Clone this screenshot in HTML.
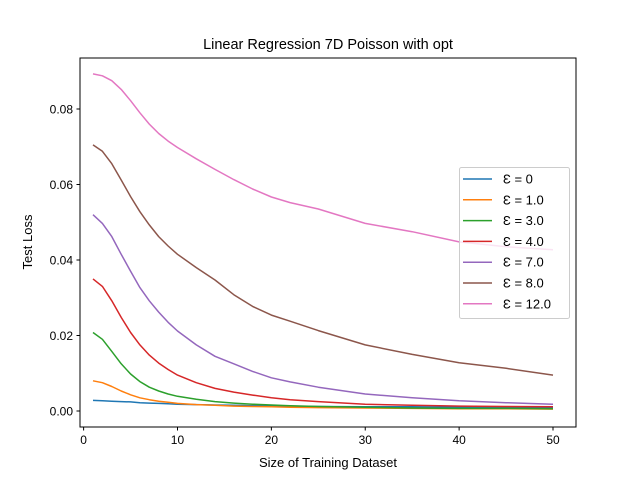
<!DOCTYPE html>
<html><head><meta charset="utf-8"><style>
body{margin:0;background:#fff;}
svg text{font-family:"Liberation Sans","DejaVu Sans",sans-serif;fill:#000;}
</style></head><body>
<svg id="chart" width="640" height="480" xmlns="http://www.w3.org/2000/svg">
<rect width="640" height="480" fill="#fff"/>
<text x="328" y="49" font-size="14.5" text-anchor="middle">Linear Regression 7D Poisson with opt</text>
<g id="plot"></g>
<text x="328" y="467" font-size="13" text-anchor="middle">Size of Training Dataset</text>
<text x="32" y="242" font-size="13" text-anchor="middle" transform="rotate(-90 32 242)">Test Loss</text>
</svg>
<script>
const xs = [1,2,3,4,5,6,7,8,9,10,12,14,16,18,20,22,25,30,35,40,45,50];
const labels = ["Ɛ = 0","Ɛ = 1.0","Ɛ = 3.0","Ɛ = 4.0","Ɛ = 7.0","Ɛ = 8.0","Ɛ = 12.0"];
const colors = ["#1f77b4","#ff7f0e","#2ca02c","#d62728","#9467bd","#8c564b","#e377c2"];
const s0 = [0.0028,0.0027,0.0026,0.0025,0.0024,0.0022,0.0021,0.002,0.0019,0.0018,0.0017,0.0016,0.0015,0.0014,0.0014,0.0013,0.0012,0.0011,0.0011,0.001,0.001,0.001];
const s1 = [0.008,0.0075,0.0065,0.0053,0.0043,0.0035,0.003,0.0026,0.0023,0.002,0.0017,0.0015,0.0013,0.0012,0.0011,0.001,0.0009,0.0008,0.0007,0.0006,0.0006,0.0005];
const s3 = [0.0208,0.019,0.0158,0.0125,0.0098,0.0078,0.0063,0.0053,0.0045,0.0039,0.0031,0.0025,0.0021,0.0018,0.0016,0.0014,0.0012,0.001,0.0008,0.0007,0.0007,0.0006];
const s4 = [0.035,0.033,0.0292,0.0248,0.0208,0.0175,0.0148,0.0127,0.011,0.0095,0.0075,0.006,0.005,0.0042,0.0035,0.003,0.0025,0.0018,0.0015,0.0013,0.0012,0.0011];
const s7 = [0.052,0.0497,0.0462,0.0415,0.037,0.0327,0.0292,0.0262,0.0235,0.0212,0.0175,0.0145,0.0125,0.0105,0.0088,0.0077,0.0063,0.0045,0.0035,0.0027,0.0022,0.0018];
const s8 = [0.0705,0.0688,0.0655,0.0612,0.0568,0.0528,0.0493,0.0462,0.0437,0.0415,0.038,0.0347,0.0308,0.0277,0.0254,0.0238,0.0213,0.0175,0.015,0.0128,0.0113,0.0095];
const s12 = [0.0893,0.0888,0.0875,0.0852,0.0822,0.079,0.076,0.0735,0.0715,0.0698,0.0668,0.064,0.0613,0.0588,0.0567,0.0552,0.0535,0.0497,0.0475,0.0448,0.0435,0.0427];
const series = [s0,s1,s3,s4,s7,s8,s12];
const xTicks = [0,10,20,30,40,50];
const yTicks = [0,0.02,0.04,0.06,0.08];
const yTickLabels = ["0.00","0.02","0.04","0.06","0.08"];

const L=80,R=576,T=58,B=427;
const X=v=>93+(v-1)*(460/49);
const Y=v=>411-v*(302/0.08);
const NS="http://www.w3.org/2000/svg";
const g=document.getElementById('plot');
function mk(t,a,p){const e=document.createElementNS(NS,t);for(const k in a)e.setAttribute(k,a[k]);(p||g).appendChild(e);return e;}

series.forEach((s,i)=>{
  const p=mk('polyline',{points:s.map((v,j)=>X(xs[j]).toFixed(1)+','+Y(v).toFixed(1)).join(' '),fill:'none',stroke:colors[i],'stroke-width':1.5,'stroke-linejoin':'round'});
  
  
});
const fr=mk('rect',{x:L,y:T,width:R-L,height:B-T,fill:'none',stroke:'#000','stroke-width':1});


xTicks.forEach(v=>{
  const tk=mk('line',{x1:X(v),x2:X(v),y1:B,y2:B+3.5,stroke:'#000'});
  
  
  const t=mk('text',{x:X(v),y:B+17,'font-size':12,'text-anchor':'middle'});t.textContent=v;
  
  
});
yTicks.forEach((v,i)=>{
  const tk=mk('line',{x1:L-3.5,x2:L,y1:Y(v),y2:Y(v),stroke:'#000'});
  
  
  const t=mk('text',{x:L-7,y:Y(v)+4.5,'font-size':12,'text-anchor':'end'});t.textContent=yTickLabels[i];
  
  
});
const lg=mk('g',{});


mk('rect',{x:459.5,y:167.5,width:110,height:151,rx:2,fill:'#fff','fill-opacity':0.8,stroke:'#ccc'},lg);
labels.forEach((l,i)=>{
  const y=179+i*20.8;
  const e=mk('g',{},lg);
  
  
  mk('line',{x1:463,x2:492,y1:y,y2:y,stroke:colors[i],'stroke-width':1.5},e);
  const t=mk('text',{x:503,y:y+4.5,'font-size':13},e);t.textContent=l;
});
</script>
</body></html>
